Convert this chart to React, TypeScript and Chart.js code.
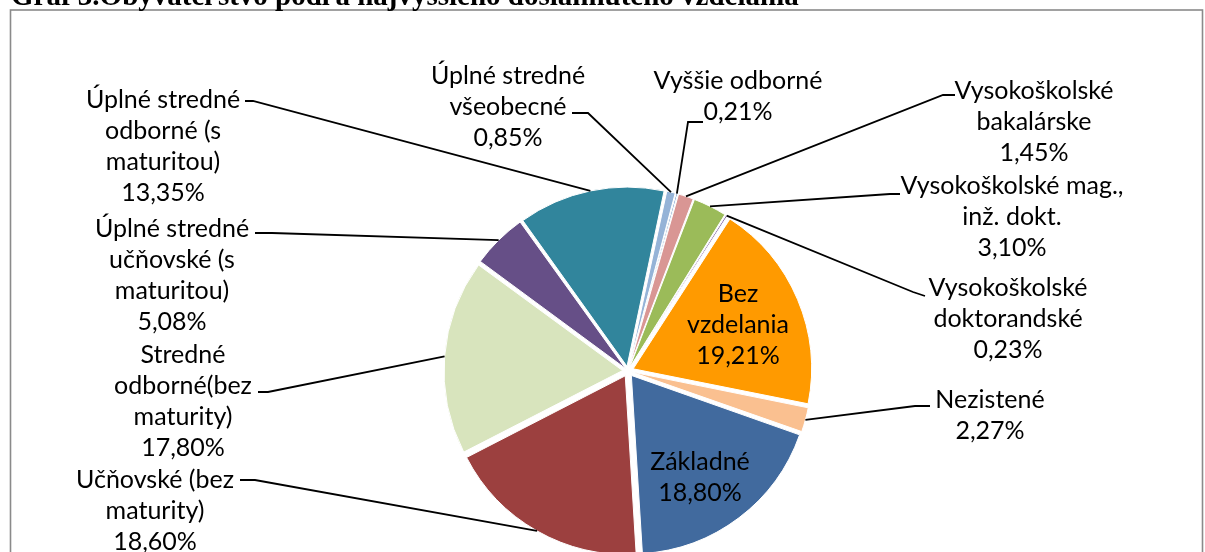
import { useEffect, useRef } from "react";
import { Chart, registerables } from "chart.js";

Chart.register(...registerables);

// ---------- data ----------
const TITLE = "Graf 3.Obyvateľstvo podľa najvyššieho dosiahnutého vzdelania";

const categories = [
  "Úplné stredné všeobecné",
  "Vyššie odborné",
  "Vysokoškolské bakalárske",
  "Vysokoškolské mag., inž. dokt.",
  "Vysokoškolské doktorandské",
  "Bez vzdelania",
  "Nezistené",
  "Základné",
  "Učňovské (bez maturity)",
  "Stredné odborné(bez maturity)",
  "Úplné stredné učňovské (s maturitou)",
  "Úplné stredné odborné (s maturitou)",
];

const labelLines = [
  ["Úplné stredné", "všeobecné"],
  ["Vyššie odborné"],
  ["Vysokoškolské", "bakalárske"],
  ["Vysokoškolské mag.,", "inž. dokt."],
  ["Vysokoškolské", "doktorandské"],
  ["Bez", "vzdelania"],
  ["Nezistené"],
  ["Základné"],
  ["Učňovské (bez", "maturity)"],
  ["Stredné", "odborné(bez", "maturity)"],
  ["Úplné stredné", "učňovské (s", "maturitou)"],
  ["Úplné stredné", "odborné (s", "maturitou)"],
];

const values = [0.85, 0.21, 1.45, 3.1, 0.23, 19.21, 2.27, 18.8, 18.6, 17.8, 5.08, 13.35];

const colors = [
  "#95B3D7",
  "#4F81BD",
  "#D99694",
  "#9BBB59",
  "#8064A2",
  "#FF9A00",
  "#FAC090",
  "#416A9E",
  "#9C403F",
  "#D8E4BD",
  "#664F87",
  "#31859C",
];

// ---------- layout (label boxes & leader elbows) ----------
const LINE_H = 31;
const FONT = "25px Lato";
const labelPlace: { x: number; y: number; end?: number[]; elbow?: number[] }[] = [
  { x: 508, y: 76, end: [572, 113], elbow: [588, 113] },
  { x: 738, y: 81, end: [703, 122], elbow: [688, 122] },
  { x: 1034, y: 91, end: [955, 95], elbow: [943, 95] },
  { x: 1012, y: 186, end: [900, 194], elbow: [890, 194] },
  { x: 1008, y: 288, end: [925, 296], elbow: [913, 292] },
  { x: 738, y: 294 },
  { x: 990, y: 400, end: [930, 406], elbow: [915, 406] },
  { x: 700, y: 462 },
  { x: 155, y: 480, end: [240, 480], elbow: [255, 480] },
  { x: 183, y: 355, end: [258, 392], elbow: [268, 392] },
  { x: 172, y: 229, end: [255, 233], elbow: [272, 233] },
  { x: 163, y: 100, end: [245, 101], elbow: [253, 101] },
];

const SHIFT = 6; // explode distance in px
const total = values.reduce((a, b) => a + b, 0);
function arcShiftFactor(v: number) {
  const ang = (v / total) * Math.PI * 2;
  const fix = 1 - Math.sin(Math.min(Math.PI, ang));
  return (1 + fix) / 4;
}

const fmt = (v: number) => v.toFixed(2).replace(".", ",") + "%";

const decorPlugin = {
  id: "decor",
  beforeDraw(chart: any) {
    const { ctx, width, height } = chart;
    ctx.save();
    ctx.fillStyle = "#ffffff";
    ctx.fillRect(0, 0, width, height);
    ctx.strokeStyle = "#8a8a8a";
    ctx.lineWidth = 1.6;
    ctx.strokeRect(10.5, 10, 1192, 600);
    ctx.fillStyle = "#000";
    ctx.font = "bold 29px 'Liberation Serif'";
    ctx.textBaseline = "alphabetic";
    ctx.textAlign = "left";
    ctx.fillText(TITLE, 11, 5);
    ctx.restore();
  },
  afterDatasetsDraw(chart: any) {
    const { ctx } = chart;
    const meta = chart.getDatasetMeta(0);
    ctx.save();
    ctx.font = FONT;
    ctx.textAlign = "center";
    ctx.textBaseline = "middle";
    meta.data.forEach((arc: any, i: number) => {
      const p = arc.getProps(["x", "y", "startAngle", "endAngle", "outerRadius"], true);
      const mid = (p.startAngle + p.endAngle) / 2;
      const place = labelPlace[i];
      if (place.end && place.elbow) {
        const r = p.outerRadius + SHIFT;
        const ax = p.x + Math.cos(mid) * r;
        const ay = p.y + Math.sin(mid) * r;
        ctx.strokeStyle = "#000";
        ctx.lineWidth = 1.8;
        ctx.beginPath();
        ctx.moveTo(place.end[0], place.end[1]);
        ctx.lineTo(place.elbow[0], place.elbow[1]);
        ctx.lineTo(ax, ay);
        ctx.stroke();
      }
      const lines = [...labelLines[i], fmt(values[i])];
      ctx.fillStyle = "#000";
      lines.forEach((t, k) => ctx.fillText(t, place.x, place.y + k * LINE_H));
    });
    ctx.restore();
  },
};

export default function App() {
  const ref = useRef<HTMLCanvasElement | null>(null);
  useEffect(() => {
    if (!ref.current) return;
    const chart = new Chart(ref.current, {
      type: "pie",
      data: {
        labels: categories,
        datasets: [
          {
            data: values,
            backgroundColor: colors,
            borderColor: "#ffffff",
            borderWidth: 1,
            radius: 178,
            offset: (c: any) => SHIFT / arcShiftFactor(values[c.dataIndex]),
          } as any,
        ],
      },
      options: {
        responsive: false,
        animation: false,
        rotation: 12,
        layout: { padding: { left: 51, right: 0, top: 190, bottom: 0 } },
        plugins: { legend: { display: false }, tooltip: { enabled: false }, title: { display: false } },
      },
      plugins: [decorPlugin],
    });
    return () => chart.destroy();
  }, []);
  return (
    <div style={{ position: "absolute", left: 0, top: 0, width: 1205, height: 552 }}>
      <canvas ref={ref} width={1205} height={552} />
    </div>
  );
}
